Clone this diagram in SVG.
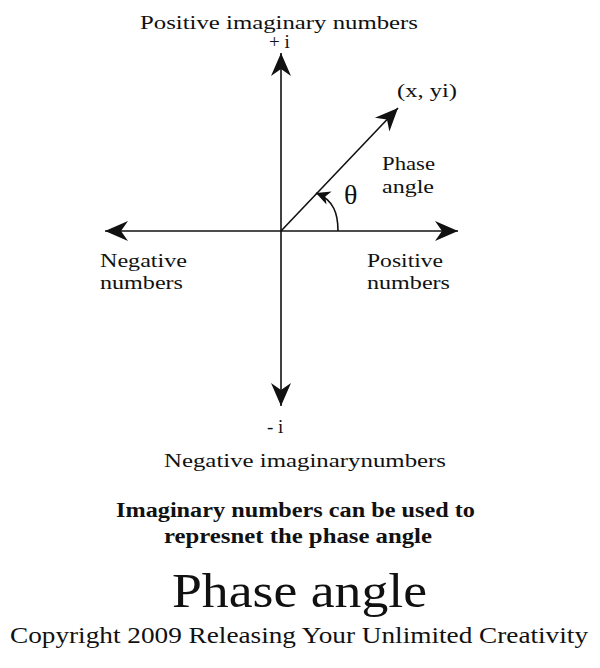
<svg xmlns="http://www.w3.org/2000/svg" width="600" height="668" viewBox="0 0 600 668">
<style>
text{font-family:'Liberation Serif','Times New Roman',Times,serif;fill:#111}
.t{font-size:19px}
.b{font-size:20px;font-weight:bold}
.ax{stroke:#111;stroke-width:1.6;fill:none}
</style>
<defs>
<marker id="ah" markerUnits="userSpaceOnUse" markerWidth="30" markerHeight="24" viewBox="-24 -12 26 24" refX="0" refY="0" orient="auto">
<path d="M0,0 L-23,-10 L-16,0 L-23,10 Z" fill="#111"/>
</marker>
<marker id="ahs" markerUnits="userSpaceOnUse" markerWidth="20" markerHeight="16" viewBox="-16 -8 18 16" refX="0" refY="0" orient="auto">
<path d="M0,0 L-14,-7 L-10,0 L-14,7 Z" fill="#111"/>
</marker>
</defs>
<rect width="600" height="668" fill="#fff"/>
<g id="connectors">
<line class="ax" x1="281" y1="231" x2="281" y2="53" marker-end="url(#ah)"/>
<line class="ax" x1="281" y1="231" x2="281" y2="406" marker-end="url(#ah)"/>
<line class="ax" x1="281" y1="231" x2="105" y2="231" marker-end="url(#ah)"/>
<line class="ax" x1="281" y1="231" x2="458" y2="231" marker-end="url(#ah)"/>
<line class="ax" x1="281" y1="231" x2="398" y2="108" marker-end="url(#ah)"/>
<path class="ax" d="M338,231 C338,214 334,200 316,193" marker-end="url(#ahs)"/>
</g>
<g id="labels" font-family="Liberation Serif">
<text class="t" x="140" y="29" textLength="278" lengthAdjust="spacingAndGlyphs">Positive imaginary numbers</text>
<text class="t" x="269" y="48">+ i</text>
<text class="t" x="397" y="97" textLength="60" lengthAdjust="spacingAndGlyphs">(x, yi)</text>
<text class="t" x="382" y="170" textLength="53" lengthAdjust="spacingAndGlyphs">Phase</text>
<text class="t" x="382" y="193" textLength="52" lengthAdjust="spacingAndGlyphs">angle</text>
<text x="344" y="204" font-size="28">θ</text>
<text class="t" x="100" y="267" textLength="87" lengthAdjust="spacingAndGlyphs">Negative</text>
<text class="t" x="100" y="289" textLength="83" lengthAdjust="spacingAndGlyphs">numbers</text>
<text class="t" x="367" y="267" textLength="76" lengthAdjust="spacingAndGlyphs">Positive</text>
<text class="t" x="367" y="289" textLength="83" lengthAdjust="spacingAndGlyphs">numbers</text>
<text class="t" x="267" y="433">- i</text>
<text class="t" x="164" y="467" textLength="282" lengthAdjust="spacingAndGlyphs">Negative imaginarynumbers</text>
<text class="b" x="116" y="517" textLength="359" lengthAdjust="spacingAndGlyphs">Imaginary numbers can be used to</text>
<text class="b" x="164" y="543" textLength="268" lengthAdjust="spacingAndGlyphs">represnet the phase angle</text>
<text x="172" y="607" font-size="48" textLength="255" lengthAdjust="spacingAndGlyphs">Phase angle</text>
<text x="10" y="643" font-size="24" textLength="578" lengthAdjust="spacingAndGlyphs">Copyright 2009 Releasing Your Unlimited Creativity</text>
</g>
</svg>
